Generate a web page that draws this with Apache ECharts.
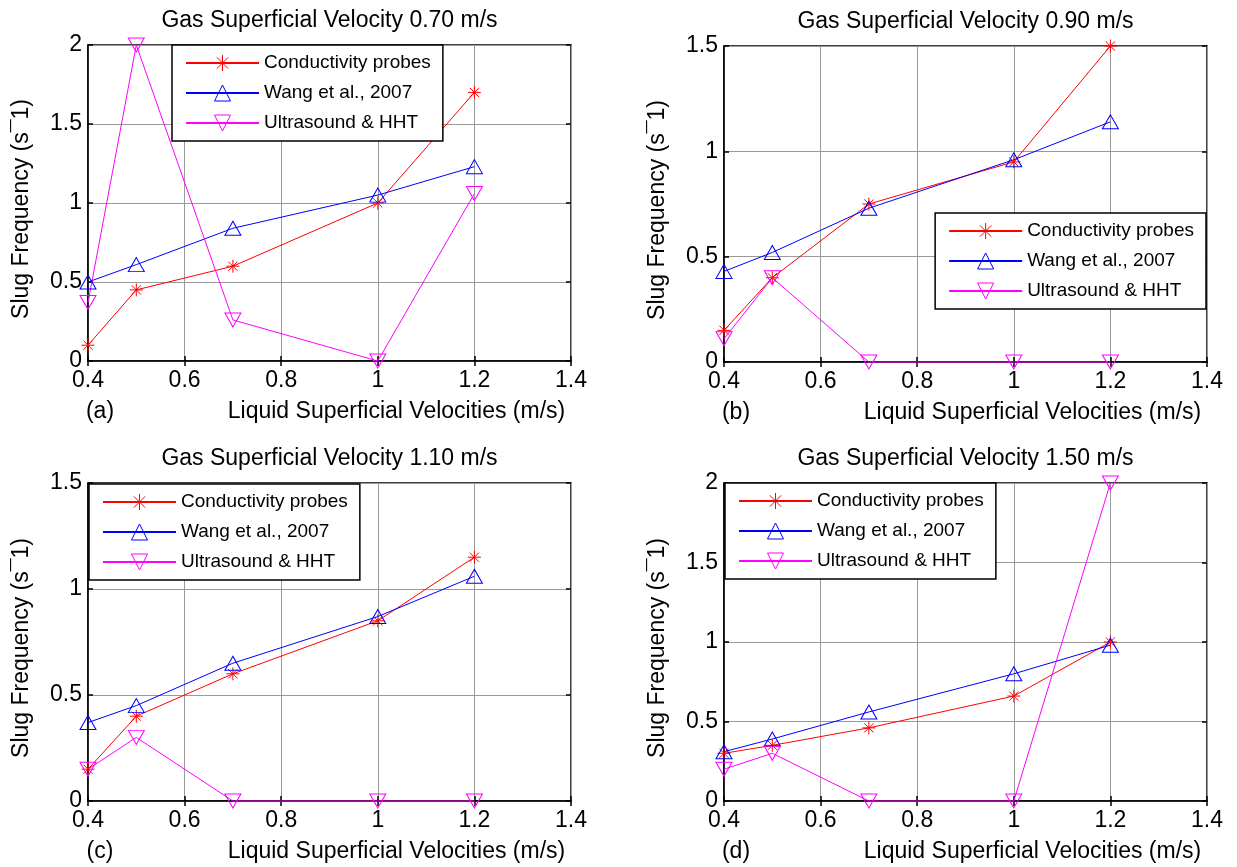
<!DOCTYPE html>
<html>
<head>
<meta charset="utf-8">
<script src="https://cdn.jsdelivr.net/npm/echarts@6/dist/echarts.min.js"></script>
<style>
  html, body { margin: 0; padding: 0; background: #fff; }
  #chart { width: 1237px; height: 867px; }
</style>
</head>
<body>
<div id="chart"></div>
<script>
// Liquid superficial velocities (m/s), shared by every panel
const liquidVelocity = [0.4, 0.5, 0.7, 1.0, 1.2];

// Slug frequency (1/s) at gas superficial velocity 0.70 m/s
const conductivity070 = [0.10, 0.45, 0.60, 1.00, 1.70];
const wang070         = [0.50, 0.61, 0.84, 1.05, 1.23];
const ultrasound070   = [0.37, 2.00, 0.26, 0.00, 1.06];

// 0.90 m/s
const conductivity090 = [0.15, 0.40, 0.75, 0.95, 1.50];
const wang090         = [0.43, 0.52, 0.73, 0.96, 1.14];
const ultrasound090   = [0.11, 0.40, 0.00, 0.00, 0.00];

// 1.10 m/s
const conductivity110 = [0.15, 0.40, 0.60, 0.85, 1.15];
const wang110         = [0.37, 0.45, 0.65, 0.87, 1.06];
const ultrasound110   = [0.15, 0.30, 0.00, 0.00, 0.00];

// 1.50 m/s
const conductivity150 = [0.30, 0.35, 0.46, 0.66, 1.00];
const wang150         = [0.31, 0.39, 0.56, 0.80, 0.98];
const ultrasound150   = [0.20, 0.30, 0.00, 0.00, 2.00];

const gasVelocityLabels = ['0.70', '0.90', '1.10', '1.50'];
const panelLetters = ['(a)', '(b)', '(c)', '(d)'];
const yAxisMax = [2, 1.5, 1.5, 2];
const seriesNames = ['Conductivity probes', 'Wang et al., 2007', 'Ultrasound & HHT'];
const panelData = [
  [conductivity070, wang070, ultrasound070],
  [conductivity090, wang090, ultrasound090],
  [conductivity110, wang110, ultrasound110],
  [conductivity150, wang150, ultrasound150]
];

const FONT = 'Arial, "Liberation Sans", sans-serif';
const TEXT_SIZE = 23;
const LEGEND_SIZE = 19;

// Plot boxes (pixels) and legend placement for each panel
const panels = [
  { left: 88,  top: 45,  width: 483, height: 316, legend: { left: 172, top: 45 } },
  { left: 724, top: 46,  width: 483, height: 316, legend: { right: 31, top: 213 } },
  { left: 88,  top: 483, width: 483, height: 318, legend: { left: 89, top: 484 } },
  { left: 724, top: 483, width: 483, height: 318, legend: { left: 725, top: 483 } }
];

// MATLAB-style asterisk: plus and cross overlaid
const ASTERISK = 'path://M6,0L6,12M0,6L12,6M1.76,1.76L10.24,10.24M1.76,10.24L10.24,1.76';
const seriesStyles = [
  { color: '#ff0000', symbol: ASTERISK, symbolSize: 13, symbolRotate: 0 },
  { color: '#0000ff', symbol: 'triangle', symbolSize: [16, 14], symbolRotate: 0 },
  { color: '#ff00ff', symbol: 'triangle', symbolSize: [16, 14], symbolRotate: 180 }
];

const fmt = v => String(Math.round(v * 10) / 10);

const grid = [], xAxis = [], yAxis = [], series = [], legend = [], graphic = [];

panels.forEach((p, k) => {
  grid.push({
    left: p.left, top: p.top, width: p.width, height: p.height,
    show: true, borderColor: '#000', borderWidth: 1.5, backgroundColor: '#fff'
  });
});

// bottom / left axes with labels and grid lines
panels.forEach((p, k) => {
  xAxis.push({
    type: 'value', gridIndex: k, min: 0.4, max: 1.4, interval: 0.2, position: 'bottom',
    axisLine: { show: true, onZero: false, lineStyle: { color: '#000', width: 1.5 } },
    axisTick: { show: true, inside: true, length: 5, lineStyle: { color: '#000', width: 1.5 } },
    axisLabel: { show: true, margin: 8, color: '#000', fontFamily: FONT, fontSize: TEXT_SIZE, formatter: fmt },
    splitLine: { show: true, lineStyle: { color: '#9a9a9a', width: 1 } }
  });
  yAxis.push({
    type: 'value', gridIndex: k, min: 0, max: yAxisMax[k], interval: 0.5, position: 'left',
    axisLine: { show: true, onZero: false, lineStyle: { color: '#000', width: 1.5 } },
    axisTick: { show: true, inside: true, length: 5, lineStyle: { color: '#000', width: 1.5 } },
    axisLabel: { show: true, margin: 6, color: '#000', fontFamily: FONT, fontSize: TEXT_SIZE, formatter: fmt },
    splitLine: { show: true, lineStyle: { color: '#9a9a9a', width: 1 } }
  });
});
// mirrored tick marks on top / right edges
panels.forEach((p, k) => {
  xAxis.push({
    type: 'value', gridIndex: k, min: 0.4, max: 1.4, interval: 0.2, position: 'top',
    axisLine: { show: false }, axisLabel: { show: false }, splitLine: { show: false },
    axisTick: { show: true, inside: true, length: 5, lineStyle: { color: '#000', width: 1.5 } }
  });
  yAxis.push({
    type: 'value', gridIndex: k, min: 0, max: yAxisMax[k], interval: 0.5, position: 'right',
    axisLine: { show: false }, axisLabel: { show: false }, splitLine: { show: false },
    axisTick: { show: true, inside: true, length: 5, lineStyle: { color: '#000', width: 1.5 } }
  });
});

panels.forEach((p, k) => {
  panelData[k].forEach((values, s) => {
    const st = seriesStyles[s];
    series.push({
      type: 'line', name: seriesNames[s], xAxisIndex: k, yAxisIndex: k,
      data: liquidVelocity.map((x, i) => [x, values[i]]),
      symbol: st.symbol, symbolSize: st.symbolSize, symbolRotate: st.symbolRotate,
      symbolKeepAspect: true, showAllSymbol: true, clip: false,
      lineStyle: { color: st.color, width: 1 },
      itemStyle: { color: 'transparent', borderColor: st.color, borderWidth: 1 },
      emphasis: { disabled: true },
      silent: true, animation: false
    });
  });

  legend.push(Object.assign({
    orient: 'vertical', data: seriesNames, selectedMode: false,
    itemWidth: 73, itemHeight: 20, itemGap: 10,
    padding: [8, 12, 8, 13],
    backgroundColor: '#fff', borderColor: '#000', borderWidth: 1.5, borderRadius: 0,
    itemStyle: { borderWidth: 1 },
    textStyle: { fontFamily: FONT, fontSize: LEGEND_SIZE, color: '#000', lineHeight: 20 }
  }, p.legend));

  const cx = p.left + p.width / 2;
  const cy = p.top + p.height / 2;
  const bottom = p.top + p.height;
  // panel title
  graphic.push({
    type: 'text', x: cx, y: p.top - 24, silent: true,
    style: { text: 'Gas Superficial Velocity ' + gasVelocityLabels[k] + ' m/s', font: TEXT_SIZE + 'px ' + FONT,
      fill: '#000', align: 'center', verticalAlign: 'middle', textAlign: 'center', textVerticalAlign: 'middle' }
  });
  // x axis title
  graphic.push({
    type: 'text', x: cx + 67, y: bottom + 51, silent: true,
    style: { text: 'Liquid Superficial Velocities (m/s)', font: TEXT_SIZE + 'px ' + FONT,
      fill: '#000', align: 'center', verticalAlign: 'middle', textAlign: 'center', textVerticalAlign: 'middle' }
  });
  // panel letter
  graphic.push({
    type: 'text', x: p.left + 12, y: bottom + 51, silent: true,
    style: { text: panelLetters[k], font: TEXT_SIZE + 'px ' + FONT,
      fill: '#000', align: 'center', verticalAlign: 'middle', textAlign: 'center', textVerticalAlign: 'middle' }
  });
  // y axis title
  graphic.push({
    type: 'text', x: p.left - 66, y: cy + 6, rotation: Math.PI / 2, silent: true,
    style: { text: 'Slug Frequency (s\u00AF1)', font: TEXT_SIZE + 'px ' + FONT,
      fill: '#000', align: 'center', verticalAlign: 'middle', textAlign: 'center', textVerticalAlign: 'middle' }
  });
});

const chart = echarts.init(document.getElementById('chart'), null, { renderer: 'canvas' });
chart.setOption({
  backgroundColor: '#fff',
  animation: false,
  grid, xAxis, yAxis, series, legend, graphic
});
</script>
</body>
</html>
